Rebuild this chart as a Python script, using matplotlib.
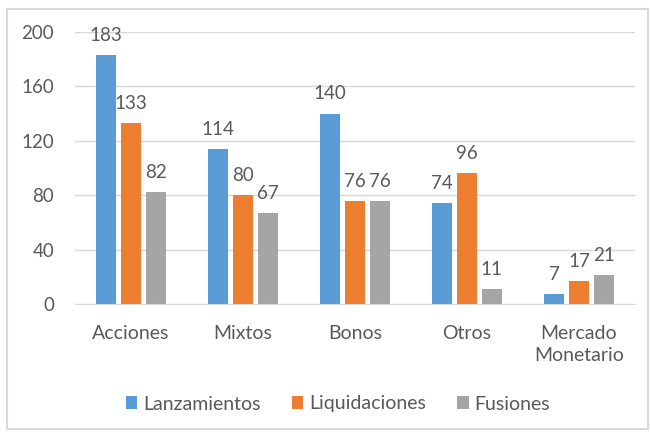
import numpy as np
import matplotlib.pyplot as plt
from matplotlib.patches import Rectangle

plt.rcParams['font.family'] = ['Lato', 'DejaVu Sans']

categorias = ['Acciones', 'Mixtos', 'Bonos', 'Otros', 'Mercado\nMonetario']
series = ['Lanzamientos', 'Liquidaciones', 'Fusiones']
lanzamientos = [183, 114, 140, 74, 7]
liquidaciones = [133, 80, 76, 96, 17]
fusiones = [82, 67, 76, 11, 21]
colores = ['#5B9BD5', '#ED7D31', '#A5A5A5']
yticks = [0, 40, 80, 120, 160, 200]

texto = '#595959'
gris = '#D9D9D9'

fig = plt.figure(figsize=(6.5, 4.32), dpi=100)
ax = fig.add_axes([75/650, 1-304/432, 560/650, 272/432])

x = np.arange(len(categorias))
ancho = 0.175
paso = 0.222
for i, (vals, nombre, c) in enumerate(zip([lanzamientos, liquidaciones, fusiones], series, colores)):
    bars = ax.bar(x + (i-1)*paso, vals, ancho, color=c, label=nombre, zorder=3)
    for b, v in zip(bars, vals):
        ax.annotate(str(v), (b.get_x() + b.get_width()/2, v), xytext=(0, 8),
                    textcoords='offset points', ha='center', va='bottom',
                    fontsize=13.5, color=texto)

ax.set_xlim(-0.5, len(categorias)-0.5)
ax.set_ylim(0, 200)
ax.set_yticks(yticks)
ax.set_xticks(x)
ax.set_xticklabels(categorias, fontsize=14, color=texto, linespacing=1.4)
ax.tick_params(axis='y', length=0, pad=15, labelsize=13.5, labelcolor=texto)
ax.tick_params(axis='x', length=0, pad=15)
ax.grid(axis='y', color=gris, linewidth=1, zorder=0)
for s in ['top', 'right', 'left']:
    ax.spines[s].set_visible(False)
ax.spines['bottom'].set_color(gris)
ax.spines['bottom'].set_zorder(4)

ax.legend(loc='center', bbox_to_anchor=(338/650, 1-404/432), bbox_transform=fig.transFigure,
          ncol=3, frameon=False, fontsize=14, labelcolor=texto,
          handlelength=0.6, handleheight=0.6, handletextpad=0.3, columnspacing=1.6)

fig.patches.append(Rectangle((7/650, 3/432), 641/650, 420/432, transform=fig.transFigure,
                             fill=False, edgecolor=gris, linewidth=1.5))

fig.savefig('out.png', dpi=100)
